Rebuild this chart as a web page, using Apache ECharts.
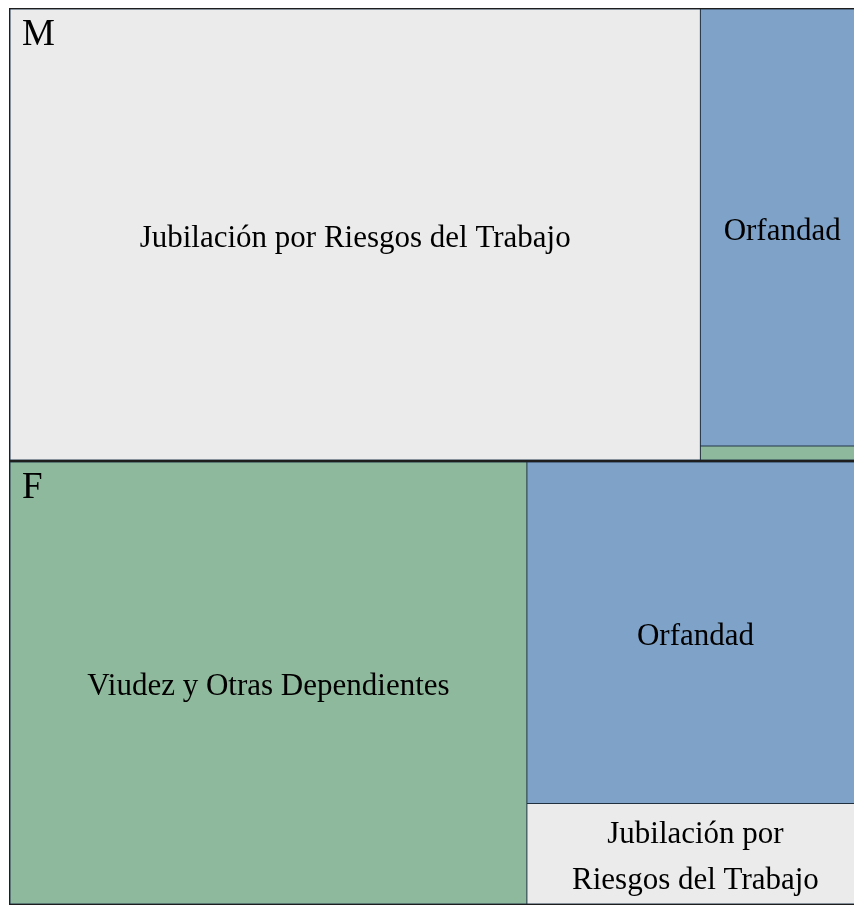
<!DOCTYPE html>
<html>
<head>
<meta charset="utf-8">
<script src="https://cdn.jsdelivr.net/npm/echarts@6/dist/echarts.min.js"></script>
<style>
  html, body { margin: 0; padding: 0; background: #fff; }
  #main { width: 854px; height: 905px; }
</style>
</head>
<body>
<div id="main"></div>
<script>
  // grupos (sexo) y tipos de pension
  var grupos = ['M', 'F'];
  var tipos = ['Jubilación por Riesgos del Trabajo', 'Orfandad', 'Viudez y Otras Dependientes'];
  var valoresM = [31350, 7200, 230];
  var valoresF = [3410, 11590, 23000];
  var colores = {
    'Jubilación por Riesgos del Trabajo': '#ebebeb',
    'Orfandad': '#7fa2c8',
    'Viudez y Otras Dependientes': '#8fb99c'
  };

  var fuente = 'Liberation Serif, Times New Roman, serif';
  var nada = 'rgba(0,0,0,0)';

  function hijos(valores, grupo) {
    return tipos.map(function (t, i) {
      var item = {
        name: t,
        value: valores[i],
        itemStyle: { color: colores[t] }
      };
      // la caja chica de F parte el texto en dos lineas
      if (grupo === 'F' && i === 0) {
        item.label = {
          formatter: 'Jubilación por\nRiesgos del Trabajo',
          lineHeight: 46,
          overflow: 'none',
          padding: [6, 0, 0, 0]
        };
      }
      // la franja de viudez en M no lleva texto
      if (grupo === 'M' && i === 2) {
        item.label = { show: false };
      }
      return item;
    });
  }

  function suma(a) {
    return a.reduce(function (s, v) { return s + v; }, 0);
  }

  var datos = grupos.map(function (g) {
    return { name: g, children: hijos(g === 'M' ? valoresM : valoresF, g) };
  });
  var datosGrupos = grupos.map(function (g) {
    return { name: g, value: suma(g === 'M' ? valoresM : valoresF) };
  });

  var chart = echarts.init(document.getElementById('main'));
  var caja = { left: 9, top: 8, width: 856, height: 897 };

  var option = {
    animation: false,
    series: [
      {
        type: 'treemap',
        left: caja.left, top: caja.top, width: caja.width, height: caja.height,
        squareRatio: 1,
        roam: false,
        nodeClick: false,
        silent: true,
        breadcrumb: { show: false },
        data: datos,
        levels: [
          { itemStyle: { borderWidth: 0, gapWidth: 0, borderColor: nada } },
          { itemStyle: { borderWidth: 1, borderColor: '#1e1e1e', gapWidth: 0 } },
          {
            itemStyle: { borderWidth: 0.5, borderColor: '#22364a', gapWidth: 0 },
            label: {
              show: true,
              position: 'inside',
              offset: [0, 4],
              color: '#000',
              fontFamily: fuente,
              fontSize: 31,
              overflow: 'break'
            }
          }
        ]
      },
      {
        // solo para poner la letra del grupo arriba a la izquierda
        type: 'treemap',
        z: 5,
        left: caja.left, top: caja.top, width: caja.width, height: caja.height,
        squareRatio: 1,
        roam: false,
        nodeClick: false,
        silent: true,
        breadcrumb: { show: false },
        data: datosGrupos,
        levels: [
          { itemStyle: { borderWidth: 0, gapWidth: 0, borderColor: nada, color: nada } },
          {
            itemStyle: { color: nada, borderWidth: 0, borderColor: nada },
            label: {
              show: true,
              position: 'insideTopLeft',
              distance: 0,
              padding: [9, 13],
              color: '#000',
              fontFamily: fuente,
              fontSize: 37
            }
          }
        ]
      }
    ]
  };
  chart.setOption(option);
</script>
</body>
</html>
